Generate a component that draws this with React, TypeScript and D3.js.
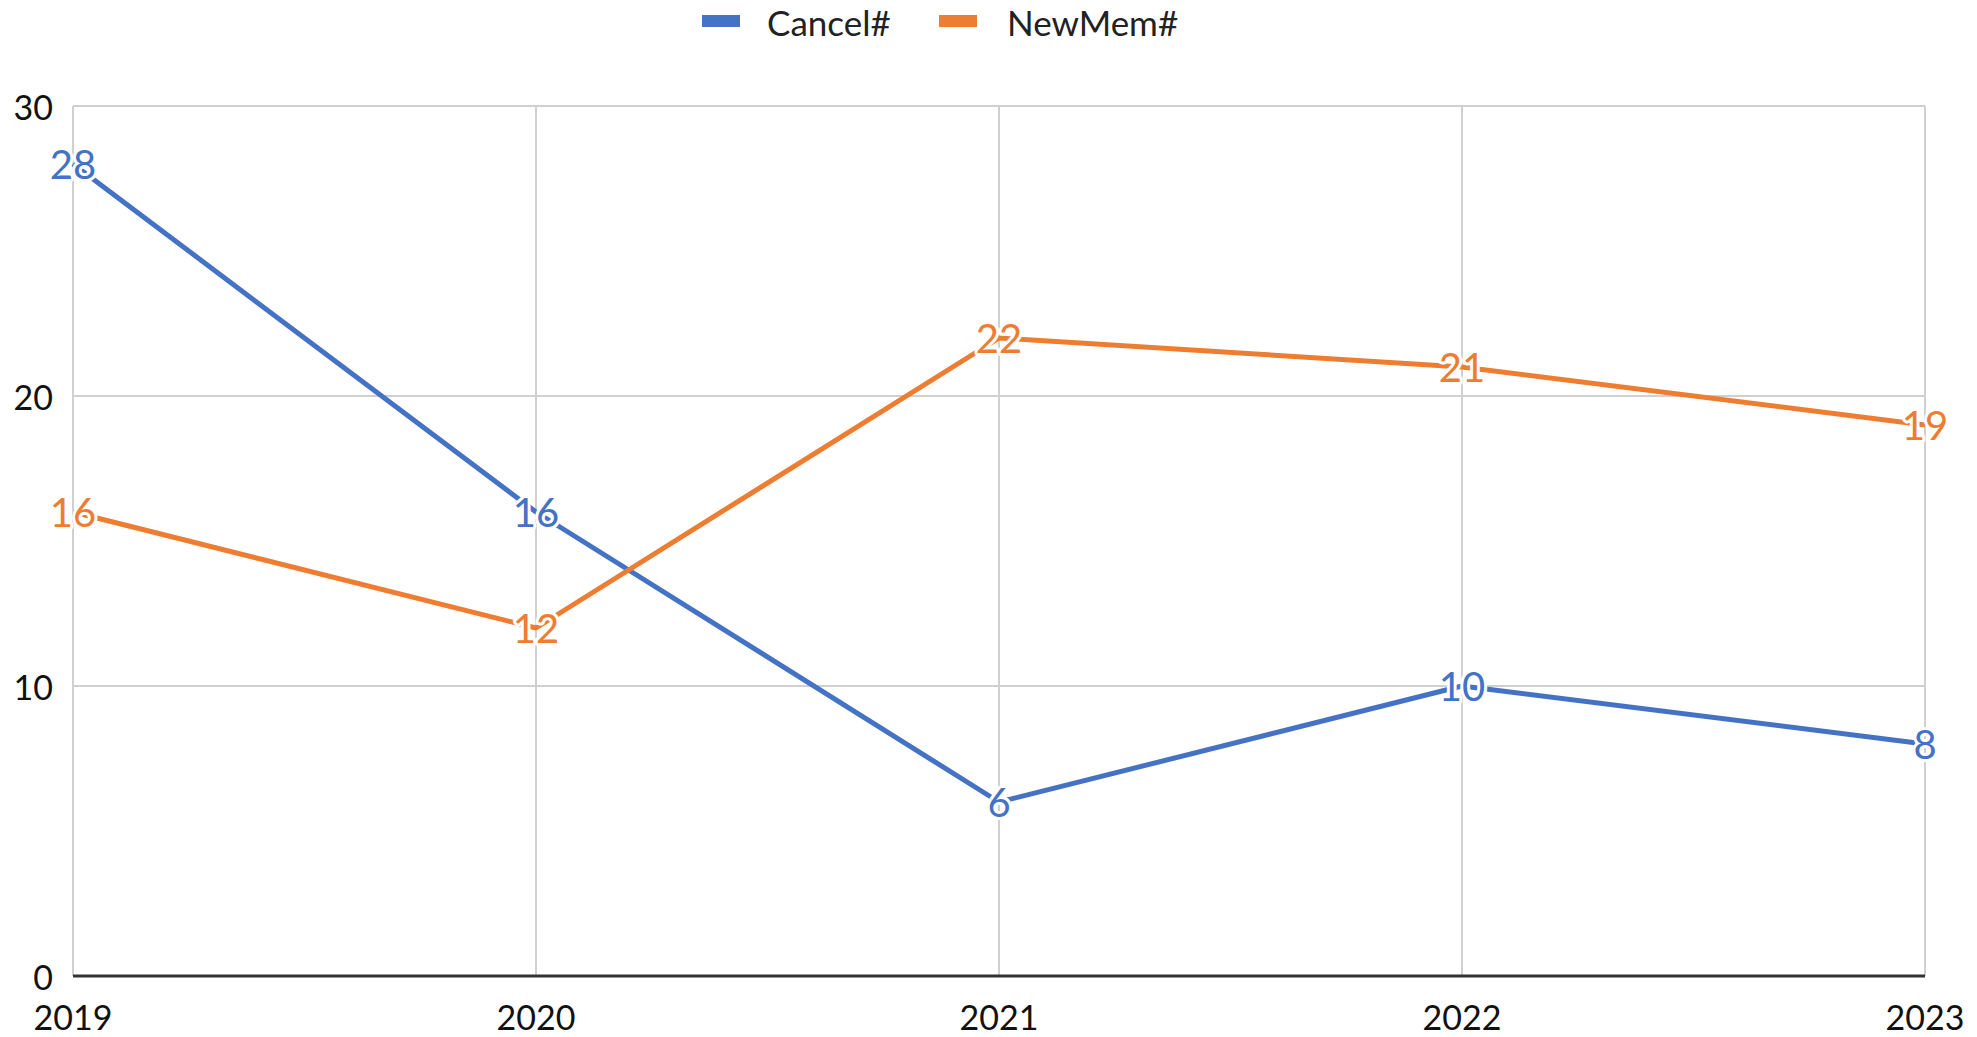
import React from "react";
import * as d3 from "d3";

const years = ["2019", "2020", "2021", "2022", "2023"];
const cancel = [28, 16, 6, 10, 8];
const newMem = [16, 12, 22, 21, 19];
const yTicks = [0, 10, 20, 30];
const seriesNames = ["Cancel#", "NewMem#"];
const seriesColors = ["#4472C4", "#ED7D31"];

const W = 1977;
const H = 1037;
const FONT = "Lato, 'Open Sans', sans-serif";

export default function App() {
  const x = d3.scalePoint<string>().domain(years).range([73, 1925]);
  const y = d3.scaleLinear().domain([0, 30]).range([976, 106]);
  const series = [cancel, newMem];
  const line = d3
    .line<number>()
    .x((_, i) => x(years[i]) as number)
    .y((d) => y(d));

  return (
    <svg
      width={W}
      height={H}
      style={{ position: "fixed", left: 0, top: 0, background: "#fff" }}
      fontFamily={FONT}
    >
      <rect width={W} height={H} fill="#fff" />
      {/* horizontal gridlines */}
      {yTicks.map((t) => (
        <line key={"h" + t} x1={73} x2={1925} y1={y(t)} y2={y(t)} stroke="#d0d0d0" strokeWidth={2} />
      ))}
      {/* vertical gridlines */}
      {years.map((yr) => (
        <line key={"v" + yr} x1={x(yr)} x2={x(yr)} y1={106} y2={976} stroke="#d0d0d0" strokeWidth={2} />
      ))}
      {/* bottom axis */}
      <line x1={73} x2={1925} y1={976} y2={976} stroke="#333" strokeWidth={3} />
      {/* y tick labels */}
      {yTicks.map((t) => (
        <text key={"yl" + t} x={53} y={y(t)} textAnchor="end" dominantBaseline="central" fontSize={34} fill="#111">
          {t}
        </text>
      ))}
      {/* x tick labels */}
      {years.map((yr) => (
        <text key={"xl" + yr} x={x(yr)} y={1016} textAnchor="middle" dominantBaseline="central" fontSize={34} fill="#111">
          {yr}
        </text>
      ))}
      {/* lines */}
      {series.map((s, si) => (
        <path key={"p" + si} d={line(s) || ""} fill="none" stroke={seriesColors[si]} strokeWidth={5} strokeLinejoin="round" />
      ))}
      {/* data labels */}
      {series.map((s, si) =>
        s.map((v, i) => (
          <text
            key={"dl" + si + "-" + i}
            x={x(years[i])}
            y={y(v)}
            textAnchor="middle"
            dominantBaseline="central"
            fontSize={40}
            fill={seriesColors[si]}
            stroke="#fff"
            strokeWidth={6}
            paintOrder="stroke"
            strokeLinejoin="round"
          >
            {v}
          </text>
        ))
      )}
      {/* legend */}
      {[
        { rx: 702, tx: 767 },
        { rx: 939, tx: 1007 },
      ].map((p, i) => (
        <g key={"lg" + i}>
          <rect x={p.rx} y={15} width={38} height={12} fill={seriesColors[i]} />
          <text x={p.tx} y={22} dominantBaseline="central" fontSize={35} fill="#222">
            {seriesNames[i]}
          </text>
        </g>
      ))}
    </svg>
  );
}
